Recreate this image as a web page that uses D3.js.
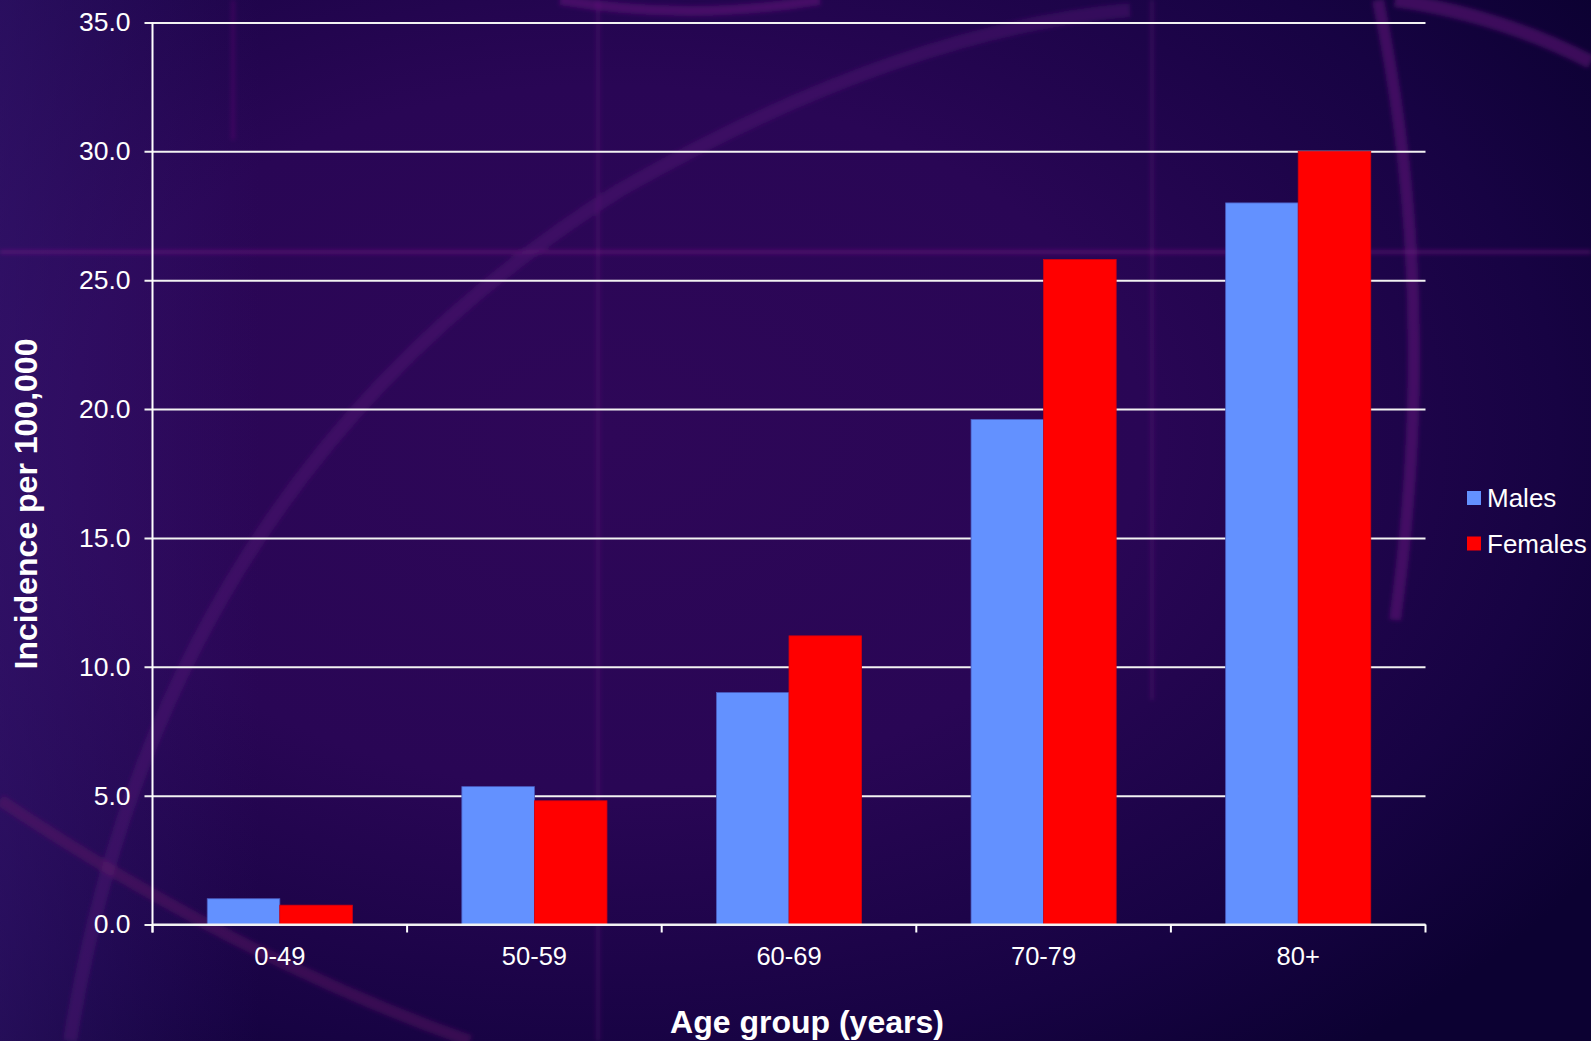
<!DOCTYPE html>
<html>
<head>
<meta charset="utf-8">
<script src="https://cdn.jsdelivr.net/npm/d3@7"></script>
<style>
  html, body { margin: 0; padding: 0; background: #1c0748; }
  svg { display: block; }
</style>
</head>
<body>
<svg id="chart" width="1591" height="1041"></svg>
<script>
// Incidence per 100,000 by age group and sex
const ageGroups = ["0-49", "50-59", "60-69", "70-79", "80+"];
const males   = [1.0, 5.35, 9.0, 19.6, 28.0];
const females = [0.75, 4.8, 11.2, 25.8, 30.0];
const seriesNames = ["Males", "Females"];
const seriesColors = ["#6391ff", "#ff0000"];
const yTicks = [0, 5, 10, 15, 20, 25, 30, 35];

const W = 1591, H = 1041;
const plot = { left: 152.5, right: 1425.5, top: 22.5, bottom: 924.5 };

const svg = d3.select("#chart");
const defs = svg.append("defs");

// backdrop gradient
const bg = defs.append("radialGradient").attr("id", "bg")
  .attr("cx", "38%").attr("cy", "42%").attr("r", "75%");
bg.append("stop").attr("offset", "0%").attr("stop-color", "#2e0758");
bg.append("stop").attr("offset", "45%").attr("stop-color", "#290655");
bg.append("stop").attr("offset", "80%").attr("stop-color", "#170343");
bg.append("stop").attr("offset", "100%").attr("stop-color", "#0c0132");
svg.append("rect").attr("width", W).attr("height", H).attr("fill", "url(#bg)");

const side = defs.append("linearGradient").attr("id", "leftglow")
  .attr("x1", "0").attr("x2", "1").attr("y1", "0").attr("y2", "0");
side.append("stop").attr("offset", "0").attr("stop-color", "#3a1a78").attr("stop-opacity", 0.5);
side.append("stop").attr("offset", "1").attr("stop-color", "#3a1a78").attr("stop-opacity", 0);
svg.append("rect").attr("width", 260).attr("height", H).attr("fill", "url(#leftglow)");

const soft = defs.append("filter").attr("id", "soft");
soft.append("feGaussianBlur").attr("stdDeviation", 2);

// decorative swirls in the backdrop
const deco = svg.append("g").attr("filter", "url(#soft)").attr("fill", "none");
deco.append("line").attr("x1", 0).attr("x2", W).attr("y1", 252).attr("y2", 252)
  .attr("stroke", "#8a1e8c").attr("stroke-opacity", 0.4).attr("stroke-width", 4);
deco.append("line").attr("x1", 598).attr("x2", 598).attr("y1", 0).attr("y2", H)
  .attr("stroke", "#7a1e88").attr("stroke-opacity", 0.25).attr("stroke-width", 4);
deco.append("line").attr("x1", 1152).attr("x2", 1152).attr("y1", 0).attr("y2", 700)
  .attr("stroke", "#7a1e88").attr("stroke-opacity", 0.25).attr("stroke-width", 4);
deco.append("line").attr("x1", 233).attr("x2", 233).attr("y1", 0).attr("y2", 140)
  .attr("stroke", "#8a1e8c").attr("stroke-opacity", 0.3).attr("stroke-width", 3);
deco.append("path").attr("d", "M1378,0 Q1440,300 1395,620")
  .attr("stroke", "#6a1a80").attr("stroke-opacity", 0.5).attr("stroke-width", 12);
deco.append("path").attr("d", "M1395,0 Q1500,15 1591,62")
  .attr("stroke", "#6a1a80").attr("stroke-opacity", 0.5).attr("stroke-width", 14);
deco.append("path").attr("d", "M70,1041 Q160,480 620,190 Q900,30 1130,10")
  .attr("stroke", "#5a1a78").attr("stroke-opacity", 0.38).attr("stroke-width", 14);
deco.append("path").attr("d", "M0,800 Q240,960 470,1041")
  .attr("stroke", "#6a1a6a").attr("stroke-opacity", 0.4).attr("stroke-width", 12);
deco.append("path").attr("d", "M560,0 Q690,22 820,0")
  .attr("stroke", "#7a1a8a").attr("stroke-opacity", 0.4).attr("stroke-width", 10);

// scales
const x0 = d3.scaleBand().domain(ageGroups)
  .range([plot.left, plot.right]).paddingInner(0.43).paddingOuter(0.215);
const x1 = d3.scaleBand().domain(seriesNames).range([0, x0.bandwidth()]);
const y = d3.scaleLinear().domain([0, 35]).range([plot.bottom, plot.top]);

const font = "'Liberation Sans', Arial, sans-serif";

// horizontal gridlines + y axis
const yAxis = d3.axisLeft(y).tickValues(yTicks).tickFormat(d3.format(".1f"))
  .tickSizeInner(-(plot.right - plot.left)).tickSizeOuter(0).tickPadding(22);
const gy = svg.append("g").attr("transform", `translate(${plot.left},0)`).call(yAxis);
gy.select(".domain").remove();
gy.selectAll(".tick line").attr("stroke", "#f2f2f2").attr("stroke-width", 2)
  .attr("x1", -8);
gy.selectAll(".tick text").attr("fill", "#ffffff")
  .style("font-family", font).style("font-size", "26.5px");

// bars
const rows = ageGroups.map((g, i) => ({ group: g, values: [males[i], females[i]] }));
const groups = svg.append("g").selectAll("g").data(rows).join("g")
  .attr("transform", d => `translate(${x0(d.group)},0)`);
groups.selectAll("rect")
  .data(d => d.values.map((v, j) => ({ key: seriesNames[j], value: v, color: seriesColors[j] })))
  .join("rect")
  .attr("x", d => x1(d.key))
  .attr("width", x1.bandwidth())
  .attr("y", d => y(d.value))
  .attr("height", d => y(0) - y(d.value))
  .attr("fill", d => d.color)
  .attr("stroke", d => d.key === "Males" ? "#4a5cc0" : "#d40010")
  .attr("stroke-width", 0.8);

// y axis line
svg.append("line").attr("x1", plot.left).attr("x2", plot.left)
  .attr("y1", plot.top).attr("y2", plot.bottom + 8)
  .attr("stroke", "#ffffff").attr("stroke-width", 2);

// x axis: baseline, category boundary ticks, labels
svg.append("line").attr("x1", plot.left).attr("x2", plot.right)
  .attr("y1", plot.bottom).attr("y2", plot.bottom)
  .attr("stroke", "#f2f2f2").attr("stroke-width", 2);
const bounds = d3.range(ageGroups.length + 1).map(i => plot.left + i * x0.step());
svg.append("g").selectAll("line").data(bounds).join("line")
  .attr("x1", d => d).attr("x2", d => d)
  .attr("y1", plot.bottom).attr("y2", plot.bottom + 8)
  .attr("stroke", "#ffffff").attr("stroke-width", 2);

const xAxis = d3.axisBottom(x0).tickSize(0).tickPadding(0);
const gx = svg.append("g").attr("transform", `translate(0,${plot.bottom})`).call(xAxis);
gx.select(".domain").remove();
gx.selectAll(".tick text").attr("fill", "#ffffff").attr("dy", null)
  .attr("y", 40.5)
  .style("font-family", font).style("font-size", "25.5px");

// axis titles
svg.append("text")
  .attr("x", 807).attr("y", 1033)
  .attr("text-anchor", "middle").attr("fill", "#ffffff")
  .style("font-family", font).style("font-size", "32px").style("font-weight", "bold")
  .text("Age group (years)");
svg.append("text")
  .attr("transform", "translate(37,504) rotate(-90)")
  .attr("text-anchor", "middle").attr("fill", "#ffffff")
  .style("font-family", font).style("font-size", "32px").style("font-weight", "bold")
  .text("Incidence per 100,000");

// legend
const legend = svg.append("g").attr("transform", "translate(1467,491)");
const li = legend.selectAll("g").data(seriesNames).join("g")
  .attr("transform", (d, i) => `translate(0,${i * 45.5})`);
li.append("rect").attr("width", 14).attr("height", 14)
  .attr("fill", (d, i) => seriesColors[i]);
li.append("text").attr("x", 20).attr("y", 16)
  .attr("fill", "#ffffff")
  .style("font-family", font).style("font-size", "26px")
  .text(d => d);
</script>
</body>
</html>
